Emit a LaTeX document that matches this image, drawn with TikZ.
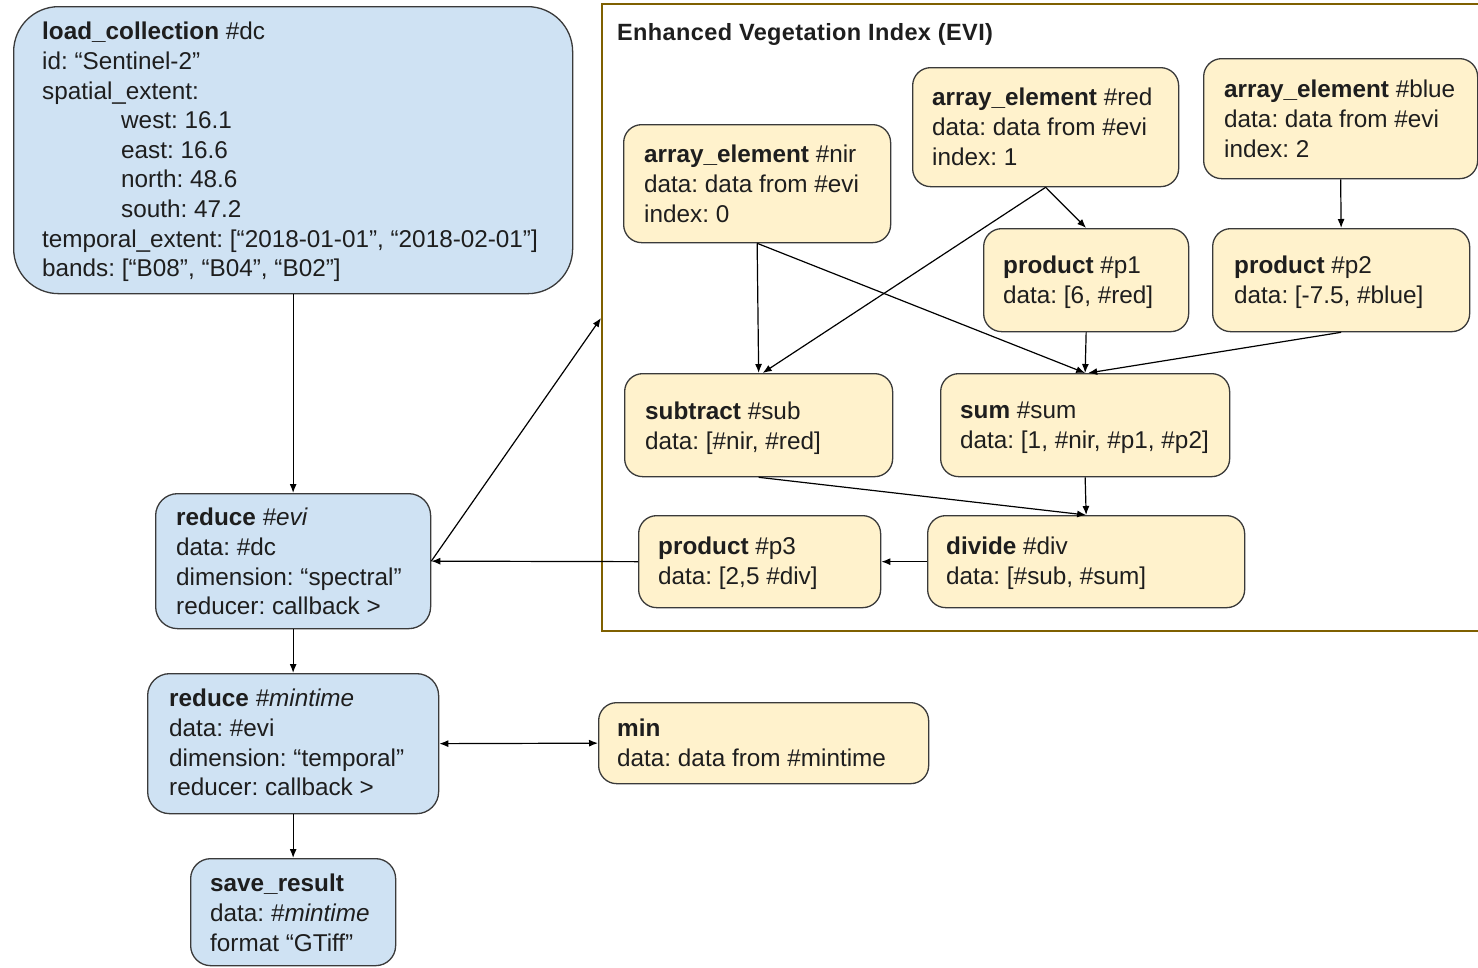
\documentclass[tikz,border=0pt]{standalone}
\usepackage{fontspec}
\setmainfont{Liberation Sans}
\newfontfamily\grouptitlefont[LetterSpace=1.6]{Liberation Sans}
\usetikzlibrary{arrows.meta}
\definecolor{procblue}{HTML}{CFE2F3}
\definecolor{procyellow}{HTML}{FFF2CC}
\definecolor{frameolive}{HTML}{7F6000}
\definecolor{outline}{HTML}{3A3A3A}
\definecolor{ink}{HTML}{1E1E1E}
\frenchspacing

\begin{document}
\begin{tikzpicture}[x=1pt,y=-1pt,
  box/.style={draw=outline, line width=1.3pt, rounded corners=18pt, inner sep=0pt, anchor=north west},
  bluebox/.style={box, fill=procblue},
  yellowbox/.style={box, fill=procyellow},
  txt/.style={anchor=north west, inner sep=0pt, align=left, text=ink,
    font=\fontsize{24.3}{29.6}\selectfont, execute at begin node=\vphantom{l}},
  flow/.style={draw=black, line width=1.2pt, -{Latex[length=9pt,width=7pt]}},
]
\useasboundingbox (0,0) rectangle (1478,967);
\clip (0,0) rectangle (1478,967);

% group frame for the EVI callback
\node[draw=frameolive, line width=1.5pt, minimum width=900pt, minimum height=627pt,
      anchor=north west, inner sep=0pt] (evigroup) at (601,3) {};
\node[anchor=north west, inner sep=0pt, text=ink, font=\grouptitlefont\fontsize{23.5}{28}\selectfont\bfseries,
      execute at begin node=\vphantom{l}] (evititle) at (617,23) {Enhanced Vegetation Index (EVI)};
\coordinate (evientry) at (601,318);

% main process graph
\node[bluebox, rounded corners=45pt, minimum width=559pt, minimum height=287pt] (dc) at (13,6) {};
\node[txt] (dc-t) at (42,22) {\textbf{load\_collection} \#dc\\
  id: “Sentinel-2”\\
  spatial\_extent:\\
  \hspace*{79pt}west: 16.1\\
  \hspace*{79pt}east: 16.6\\
  \hspace*{79pt}north: 48.6\\
  \hspace*{79pt}south: 47.2\\
  temporal\_extent: [“2018-01-01”, “2018-02-01”]\\
  bands: [“B08”, “B04”, “B02”]};

\node[bluebox, rounded corners=22pt, minimum width=275pt, minimum height=135pt] (evi) at (155,493) {};
\node[txt] (evi-t) at (176,508) {\textbf{reduce} \textit{\#evi}\\
  data: \#dc\\
  dimension: “spectral”\\
  reducer: callback >};

\node[bluebox, rounded corners=22pt, minimum width=291pt, minimum height=140pt] (mintime) at (147,673) {};
\node[txt] (mintime-t) at (169,689) {\textbf{reduce} \textit{\#mintime}\\
  data: \#evi\\
  dimension: “temporal”\\
  reducer: callback >};

\node[bluebox, rounded corners=20pt, minimum width=205pt, minimum height=107pt] (save) at (190,858) {};
\node[txt] (save-t) at (210,874) {\textbf{save\_result}\\
  data: \textit{\#mintime}\\
  format “GTiff”};

\node[yellowbox, minimum width=330pt, minimum height=81pt] (min) at (598,702) {};
\node[txt] (min-t) at (617,719) {\textbf{min}\\
  data: data from \#mintime};

% callback nodes
\node[yellowbox, minimum width=267pt, minimum height=118pt] (nir) at (623,124) {};
\node[txt] (nir-t) at (644,145) {\textbf{array\_element} \#nir\\
  data: data from \#evi\\
  index: 0};

\node[yellowbox, minimum width=266pt, minimum height=119pt] (red) at (912,67) {};
\node[txt] (red-t) at (932,88) {\textbf{array\_element} \#red\\
  data: data from \#evi\\
  index: 1};

\node[yellowbox, minimum width=274pt, minimum height=120pt] (blue) at (1203,58) {};
\node[txt] (blue-t) at (1224,80) {\textbf{array\_element} \#blue\\
  data: data from \#evi\\
  index: 2};

\node[yellowbox, minimum width=205pt, minimum height=103pt] (p1) at (983,228) {};
\node[txt] (p1-t) at (1003,256) {\textbf{product} \#p1\\
  data: [6, \#red]};

\node[yellowbox, minimum width=257pt, minimum height=103pt] (p2) at (1212,228) {};
\node[txt] (p2-t) at (1234,256) {\textbf{product} \#p2\\
  data: [-7.5, \#blue]};

\node[yellowbox, minimum width=268pt, minimum height=103pt] (sub) at (624,373) {};
\node[txt] (sub-t) at (645,402) {\textbf{subtract} \#sub\\
  data: [\#nir, \#red]};

\node[yellowbox, minimum width=289pt, minimum height=103pt] (sum) at (940,373) {};
\node[txt] (sum-t) at (960,402) {\textbf{sum} \#sum\\
  data: [1, \#nir, \#p1, \#p2]};

\node[yellowbox, minimum width=242pt, minimum height=92pt] (p3) at (638,515) {};
\node[txt] (p3-t) at (658,537) {\textbf{product} \#p3\\
  data: [2,5 \#div]};

\node[yellowbox, minimum width=317pt, minimum height=92pt] (div) at (927,515) {};
\node[txt] (div-t) at (946,537) {\textbf{divide} \#div\\
  data: [\#sub, \#sum]};

% connectors
\draw[flow] (dc.south) -- (evi.north);
\draw[flow] (evi.south) -- (mintime.north);
\draw[flow] (mintime.south) -- (save.north);
\draw[flow, {Latex[length=9pt,width=7pt]}-{Latex[length=9pt,width=7pt]}] (mintime.east) -- (min.west);
\draw[flow] (evi.east) -- (evientry);
\draw[flow] (p3.west) -- (evi.east);
\draw[flow] (div.west) -- (p3.east);

\draw[flow] (nir.south) -- (sub.north);
\draw[flow] (nir.south) -- (sum.north);
\draw[flow] (red.south) -- ([xshift=4pt]sub.north);
\draw[flow] (red.south) -- (p1.north);
\draw[flow] (blue.south) -- (p2.north);
\draw[flow] (p1.south) -- (sum.north);
\draw[flow] (p2.south) -- ([xshift=3pt]sum.north);
\draw[flow] (sum.south) -- (div.north);
\draw[flow] (sub.south) -- (div.north);
\end{tikzpicture}
\end{document}
